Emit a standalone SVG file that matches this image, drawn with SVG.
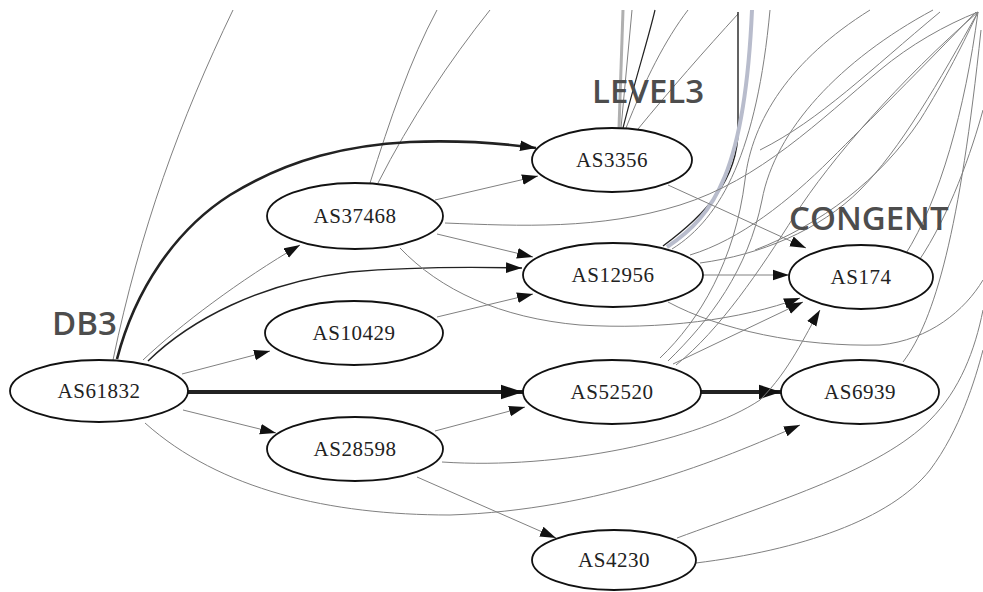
<svg xmlns="http://www.w3.org/2000/svg" width="983" height="592" viewBox="0 0 983 592">
<defs>
<style>
.e{fill:none;stroke:#808080;stroke-width:1}
.l{fill:none;stroke:#b0b0b0;stroke-width:1}
.d{fill:none;stroke:#222;stroke-width:1.4}
.n ellipse{fill:#fff;stroke:#111;stroke-width:1.8}
.n text{font-family:"Liberation Serif","Times New Roman",serif;font-size:21px;letter-spacing:0.5px;fill:#222;text-anchor:middle}
.lab{font-family:"Open Sans","DejaVu Sans",sans-serif;font-weight:600;font-size:33px;fill:#4d4d4d}
</style>
<marker id="a" markerUnits="userSpaceOnUse" markerWidth="16" markerHeight="12" refX="15" refY="5" orient="auto" viewBox="0 0 15 10"><path d="M0,0 L15,5 L0,10 z" fill="#111"/></marker>
<marker id="A" markerUnits="userSpaceOnUse" markerWidth="22" markerHeight="16" refX="21" refY="7" orient="auto" viewBox="0 0 21 14"><path d="M0,0 L21,7 L0,14 z" fill="#111"/></marker>
</defs>
<rect width="983" height="592" fill="#fff"/>
<g id="connectors">
<!-- background lines to off-screen nodes -->
<path class="e" d="M113,360 C140,230 180,120 233,10"/>
<path class="e" d="M370,183 C390,120 410,60 437,10"/>
<path class="e" d="M378,183 C410,120 450,60 490,10"/>
<path class="l" d="M619,128 L623,10" style="stroke-width:3"/>
<path class="e" d="M621,128 L632,10"/>
<path class="d" d="M623,128 C635,80 648,40 655,10" style="stroke-width:1.2"/>
<path class="e" d="M626,128 C645,80 665,40 688,10"/>
<path class="e" d="M638,129 C670,90 705,50 738,14"/>
<path class="d" d="M663,246 C705,215 738,180 738,130 L738,12"/>
<path class="l" d="M667,247 C715,215 745,170 752,10" style="stroke:#b8bccc;stroke-width:4"/>
<path class="e" d="M672,249 C722,218 757,150 770,10"/>
<path class="e" d="M660,358 C700,320 735,260 745,180 C752,120 790,60 870,10"/>
<path class="e" d="M668,361 C710,320 748,270 762,200 C775,130 840,60 933,10"/>
<path class="e" d="M676,365 C720,330 760,270 795,215 C830,160 900,80 978,12"/>
<path class="e" d="M445,223 C520,226 600,230 680,205 C760,180 820,120 880,70 C910,45 945,25 978,12"/>
<path class="e" d="M690,255 C740,240 790,200 830,160 C870,120 920,70 976,12"/>
<path class="e" d="M700,263 C760,255 820,230 860,190 C900,150 940,80 978,12"/>
<path class="e" d="M760,150 C820,120 870,70 940,12"/>
<path class="e" d="M755,250 C820,225 880,180 920,120 C945,80 965,40 978,12"/>
<path class="e" d="M905,255 C940,200 965,110 978,12"/>
<path class="e" d="M918,262 C950,215 972,150 983,110"/>
<path class="e" d="M903,362 C935,320 960,230 981,30"/>
<path class="e" d="M668,302 C720,330 800,347 880,345 C930,340 965,310 983,280"/>
<path class="e" d="M677,538 C780,500 880,470 930,420 C960,390 975,350 983,310"/>
<path class="e" d="M696,563 C800,550 890,520 930,470 C960,430 975,380 983,350"/>
<!-- edges with arrows -->
<path class="d" d="M117,359 C135,290 175,230 230,195 C290,158 350,145 410,142 C460,140 500,143 536,148" style="stroke-width:2.6" marker-end="url(#a)"/>
<path class="e" d="M143,360 C180,325 240,280 300,245" marker-end="url(#a)"/>
<path class="d" d="M148,361 C190,320 260,283 350,272 C420,266 480,267 522,268" marker-end="url(#a)"/>
<path class="e" d="M182,374 L270,351" marker-end="url(#a)"/>
<path class="d" d="M188,392 L523,392" style="stroke-width:4" marker-end="url(#A)"/>
<path class="e" d="M183,410 L276,433" marker-end="url(#a)"/>
<path class="e" d="M145,423 C220,490 330,515 450,515 C600,510 720,460 800,425" marker-end="url(#a)"/>
<path class="e" d="M435,200 L538,176" marker-end="url(#a)"/>
<path class="e" d="M437,234 L533,257" marker-end="url(#a)"/>
<path class="e" d="M400,248 C440,290 500,318 580,325 C660,330 740,320 800,298" marker-end="url(#a)"/>
<path class="e" d="M437,317 L533,294" marker-end="url(#a)"/>
<path class="e" d="M668,185 L806,248" marker-end="url(#a)"/>
<path class="e" d="M703,275 L789,275" marker-end="url(#a)"/>
<path class="e" d="M673,364 L803,302" marker-end="url(#a)"/>
<path class="d" d="M701,392 L781,392" style="stroke-width:4" marker-end="url(#A)"/>
<path class="e" d="M435,431 L525,407" marker-end="url(#a)"/>
<path class="e" d="M417,477 L556,538" marker-end="url(#a)"/>
<path class="e" d="M442,462 C560,470 700,440 760,400 C790,370 805,335 820,310" marker-end="url(#a)"/>
</g>
<g id="AS61832" class="n"><ellipse cx="99" cy="391" rx="89" ry="31"/><text x="99" y="398">AS61832</text></g>
<g id="AS37468" class="n"><ellipse cx="355" cy="216" rx="88" ry="33"/><text x="355" y="223">AS37468</text></g>
<g id="AS10429" class="n"><ellipse cx="354" cy="333" rx="89" ry="32"/><text x="354" y="340">AS10429</text></g>
<g id="AS28598" class="n"><ellipse cx="355" cy="449" rx="88" ry="32"/><text x="355" y="456">AS28598</text></g>
<g id="AS3356" class="n"><ellipse cx="612" cy="160" rx="80" ry="32"/><text x="612" y="167">AS3356</text></g>
<g id="AS12956" class="n"><ellipse cx="613" cy="275" rx="90" ry="32"/><text x="613" y="282">AS12956</text></g>
<g id="AS52520" class="n"><ellipse cx="612" cy="392" rx="89" ry="32"/><text x="612" y="399">AS52520</text></g>
<g id="AS4230" class="n"><ellipse cx="614" cy="560" rx="82" ry="30"/><text x="614" y="567">AS4230</text></g>
<g id="AS174" class="n"><ellipse cx="861" cy="277" rx="72" ry="32"/><text x="861" y="284">AS174</text></g>
<g id="AS6939" class="n"><ellipse cx="860" cy="392" rx="79" ry="32"/><text x="860" y="399">AS6939</text></g>
<g id="labels">
<text class="lab" x="52" y="335">DB3</text>
<text class="lab" x="592" y="103">LEVEL3</text>
<text class="lab" x="789" y="230">CONGENT</text>
</g>
</svg>
